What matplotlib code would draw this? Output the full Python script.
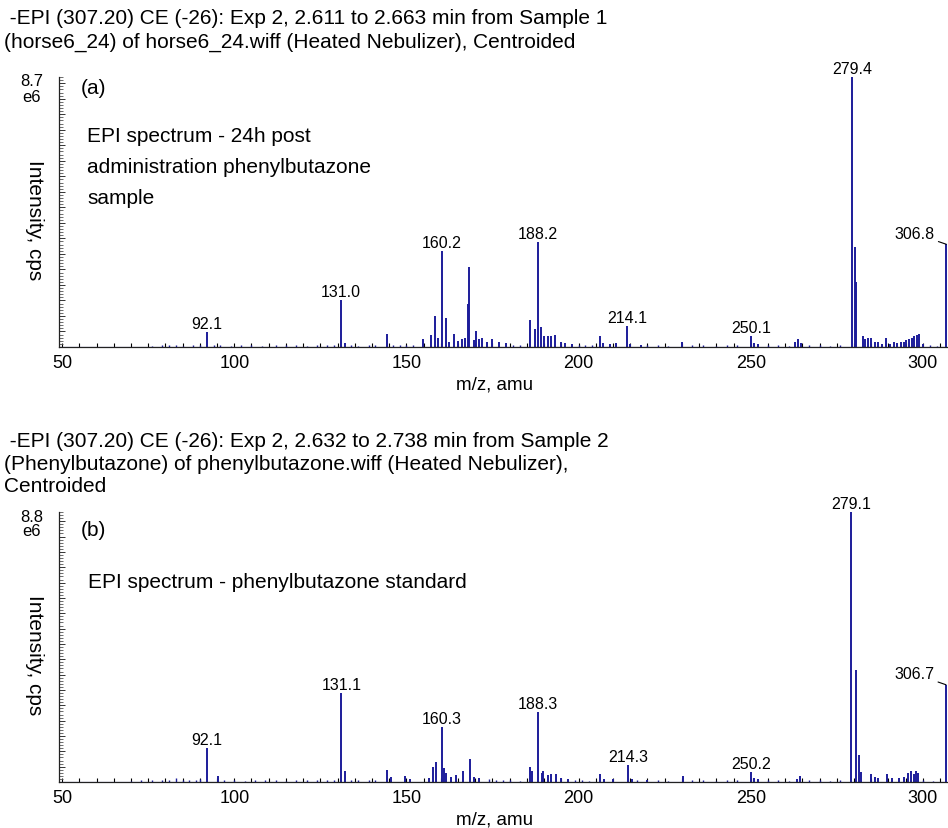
import matplotlib
matplotlib.use('Agg')
import matplotlib.pyplot as plt
from matplotlib.ticker import MultipleLocator, NullFormatter

plt.rcParams['font.family'] = ['Liberation Sans', 'DejaVu Sans']

BLUE = '#1c1c9a'

# ---------------- data (intensity in units of 1e6 cps) ----------------
top_max = 8.7
top_mz = [92.1, 131.0, 132.2, 144.3, 154.8, 157.0, 158.2, 159.2, 160.2, 161.4, 162.5,
          163.8, 165.0, 166.0, 167.0, 167.9, 168.1, 169.5, 170.2, 171.0, 172.0, 173.5,
          175.0, 177.0, 179.0, 186.0, 187.2, 188.2, 189.1, 190.0, 191.0, 192.0, 193.2,
          195.0, 196.0, 198.0, 206.2, 207.0, 209.0, 211.0, 214.1, 215.0, 218.0, 230.0,
          250.1, 251.0, 252.0, 263.0, 263.8, 264.5, 279.4, 280.2, 280.7, 282.6, 283.3,
          284.0, 285.0, 286.0, 287.0, 288.0, 289.2, 290.5, 291.5, 292.5, 293.5, 294.5,
          295.2, 296.0, 296.8, 297.5, 298.2, 298.8, 300.0, 306.8]
top_int = [0.49, 1.51, 0.13, 0.42, 0.26, 0.38, 1.00, 0.29, 3.10, 0.93, 0.17,
           0.43, 0.20, 0.26, 0.30, 1.39, 2.58, 0.22, 0.52, 0.26, 0.30, 0.17,
           0.26, 0.17, 0.13, 0.87, 0.58, 3.39, 0.64, 0.35, 0.35, 0.35, 0.38,
           0.17, 0.13, 0.09, 0.35, 0.13, 0.10, 0.13, 0.68, 0.09, 0.07, 0.17,
           0.35, 0.13, 0.09, 0.17, 0.26, 0.13, 8.70, 3.22, 2.09, 0.35, 0.26,
           0.30, 0.30, 0.17, 0.17, 0.10, 0.30, 0.10, 0.17, 0.13, 0.16, 0.17,
           0.22, 0.26, 0.30, 0.35, 0.39, 0.43, 0.09, 3.31]
top_noise_mz = [76, 79, 81, 83, 85, 88, 90, 94, 96, 99, 102, 105, 108, 112, 115,
                118, 121, 124, 127, 129, 134, 136, 139, 141, 146, 148, 150, 152,
                181, 183, 200, 202, 204, 220, 223, 226, 233, 236, 240, 243, 246,
                255, 258, 261, 267, 270, 273, 276, 302, 304]
top_noise_int = [0.04, 0.05, 0.06, 0.05, 0.04, 0.06, 0.07, 0.05, 0.06, 0.04, 0.05,
                 0.06, 0.04, 0.05, 0.06, 0.05, 0.04, 0.06, 0.05, 0.07, 0.05, 0.04,
                 0.05, 0.06, 0.07, 0.06, 0.08, 0.07, 0.06, 0.05, 0.07, 0.06, 0.05,
                 0.06, 0.05, 0.04, 0.06, 0.05, 0.04, 0.06, 0.05, 0.06, 0.05, 0.04,
                 0.06, 0.05, 0.04, 0.05, 0.05, 0.04]
top_labels = ['92.1', '131.0', '160.2', '188.2', '214.1', '250.1', '279.4']
top_label_mz = [92.1, 131.0, 160.2, 188.2, 214.1, 250.1, 279.4]
top_label_h = [0.49, 1.51, 3.10, 3.39, 0.68, 0.35, 8.70]
top_prec_label = '306.8'
top_prec = (306.8, 3.31)

bot_max = 8.8
bot_mz = [92.1, 95.2, 131.1, 132.3, 144.4, 145.5, 149.7, 151.0, 156.5, 157.8, 158.5,
          160.3, 161.0, 161.6, 163.0, 164.5, 166.5, 168.5, 169.5, 171.0, 185.9, 186.4,
          188.3, 189.3, 189.8, 191.0, 192.0, 193.3, 195.0, 197.0, 206.2, 207.5, 210.0,
          214.3, 215.5, 220.0, 230.2, 250.2, 251.0, 252.0, 263.5, 264.2, 279.1, 280.5,
          281.3, 282.1, 285.0, 286.0, 287.0, 289.7, 291.0, 293.0, 294.5, 295.7, 296.5,
          297.5, 298.0, 298.6, 306.7]
bot_int = [1.11, 0.19, 2.90, 0.35, 0.39, 0.15, 0.19, 0.10, 0.13, 0.48, 0.65,
           1.80, 0.46, 0.30, 0.17, 0.22, 0.35, 0.75, 0.17, 0.13, 0.48, 0.35,
           2.29, 0.30, 0.35, 0.22, 0.26, 0.26, 0.13, 0.10, 0.26, 0.10, 0.10,
           0.55, 0.09, 0.07, 0.18, 0.33, 0.13, 0.09, 0.10, 0.18, 8.80, 3.65,
           0.88, 0.33, 0.26, 0.17, 0.13, 0.26, 0.13, 0.13, 0.17, 0.30, 0.35,
           0.26, 0.35, 0.30, 3.17]
bot_noise_mz = [70, 73, 76, 79, 81, 83, 85, 87, 89, 90, 97, 100, 103, 106, 109,
                112, 115, 118, 121, 124, 127, 129, 134, 136, 139, 141, 174, 176,
                178, 180, 183, 199, 201, 203, 217, 223, 226, 233, 236, 240, 243,
                246, 255, 258, 261, 267, 270, 273, 276, 300, 303]
bot_noise_int = [0.04, 0.05, 0.06, 0.07, 0.06, 0.12, 0.06, 0.07, 0.08, 0.09, 0.05,
                 0.06, 0.04, 0.05, 0.06, 0.05, 0.04, 0.06, 0.05, 0.07, 0.05, 0.08,
                 0.06, 0.05, 0.06, 0.05, 0.10, 0.08, 0.06, 0.05, 0.04, 0.06, 0.05,
                 0.04, 0.06, 0.05, 0.04, 0.06, 0.05, 0.04, 0.06, 0.05, 0.06, 0.05,
                 0.04, 0.06, 0.05, 0.04, 0.05, 0.05, 0.04]
bot_labels = ['92.1', '131.1', '160.3', '188.3', '214.3', '250.2', '279.1']
bot_label_mz = [92.1, 131.1, 160.3, 188.3, 214.3, 250.2, 279.1]
bot_label_h = [1.11, 2.90, 1.80, 2.29, 0.55, 0.33, 8.80]
bot_prec_label = '306.7'
bot_prec = (306.7, 3.17)

top_title = [' -EPI (307.20) CE (-26): Exp 2, 2.611 to 2.663 min from Sample 1',
             '(horse6_24) of horse6_24.wiff (Heated Nebulizer), Centroided']
bot_title = [' -EPI (307.20) CE (-26): Exp 2, 2.632 to 2.738 min from Sample 2',
             '(Phenylbutazone) of phenylbutazone.wiff (Heated Nebulizer),',
             'Centroided']
top_note = ['EPI spectrum - 24h post', 'administration phenylbutazone', 'sample']
bot_note = ['EPI spectrum - phenylbutazone standard']

# ---------------- figure ----------------
W, H = 948, 829
fig = plt.figure(figsize=(W / 100, H / 100), dpi=100)


def frect(l, t, r, b):
    return [l / W, 1 - b / H, (r - l) / W, (b - t) / H]


def ftext(x, y, s, **kw):
    kw.setdefault('va', 'center')
    fig.text(x / W, 1 - y / H, s, **kw)


def draw_panel(ax, mz, inten, nmz, nint, ymax, labels, lmz, lh, plabel, prec):
    ax.vlines(nmz, 0, nint, color=BLUE, lw=1.0)
    ax.vlines(mz, 0, inten, color=BLUE, lw=1.4)
    ax.axhline(0, color=BLUE, lw=0.8)
    ax.set_xlim(49.1, 307.0)
    ax.set_ylim(0, ymax)
    for s in ('top', 'right'):
        ax.spines[s].set_visible(False)
    for s in ('left', 'bottom'):
        ax.spines[s].set_linewidth(0.9)
        ax.spines[s].set_color('#222222')
    ax.xaxis.set_major_locator(MultipleLocator(50))
    ax.xaxis.set_minor_locator(MultipleLocator(5))
    ax.yaxis.set_major_locator(MultipleLocator(0.5))
    ax.yaxis.set_minor_locator(MultipleLocator(0.1))
    ax.yaxis.set_major_formatter(NullFormatter())
    ax.tick_params(axis='x', which='both', direction='in', length=3, width=0.8,
                   labelsize=13, pad=5)
    ax.tick_params(axis='y', which='major', direction='in', length=4.5, width=0.7,
                   color='#333333')
    ax.tick_params(axis='y', which='minor', direction='in', length=2.8, width=0.6,
                   color='#555555')
    for t, x, h in zip(labels, lmz, lh):
        ax.annotate(t, xy=(x, h), xytext=(0, 1), textcoords='offset pixels',
                    ha='center', va='bottom', fontsize=11.5, annotation_clip=False)
    ax.annotate(plabel, xy=prec, xytext=(-12, 11), textcoords='offset pixels',
                ha='right', va='center', fontsize=11.5, annotation_clip=False,
                arrowprops=dict(arrowstyle='-', lw=0.8, color='black',
                                shrinkA=1, shrinkB=0))


ax1 = fig.add_axes(frect(59, 78, 947, 348))
ax2 = fig.add_axes(frect(59, 513, 947, 783))
draw_panel(ax1, top_mz, top_int, top_noise_mz, top_noise_int, top_max,
           top_labels, top_label_mz, top_label_h, top_prec_label, top_prec)
draw_panel(ax2, bot_mz, bot_int, bot_noise_mz, bot_noise_int, bot_max,
           bot_labels, bot_label_mz, bot_label_h, bot_prec_label, bot_prec)

# titles
for i, line in enumerate(top_title):
    ftext(4, 19 + 23 * i, line, fontsize=15)
for i, line in enumerate(bot_title):
    ftext(4, 442 + 22.5 * i, line, fontsize=15)

# y max labels
ftext(32, 82, '8.7', fontsize=12, ha='center')
ftext(32, 97, 'e6', fontsize=12, ha='center')
ftext(32, 517, '8.8', fontsize=12, ha='center')
ftext(32, 532, 'e6', fontsize=12, ha='center')

# panel letters
ftext(81, 88, '(a)', fontsize=15)
ftext(81, 531, '(b)', fontsize=15)

# notes
for i, line in enumerate(top_note):
    ftext(87, 137 + 30.5 * i, line, fontsize=15)
for i, line in enumerate(bot_note):
    ftext(88, 583, line, fontsize=15)

# axis labels
ftext(34, 220, 'Intensity, cps', fontsize=15, rotation=-90, ha='center')
ftext(34, 655, 'Intensity, cps', fontsize=15, rotation=-90, ha='center')
ftext(495, 385, 'm/z, amu', fontsize=13.5, ha='center')
ftext(495, 820, 'm/z, amu', fontsize=13.5, ha='center')

fig.savefig('out.png', dpi=100)
